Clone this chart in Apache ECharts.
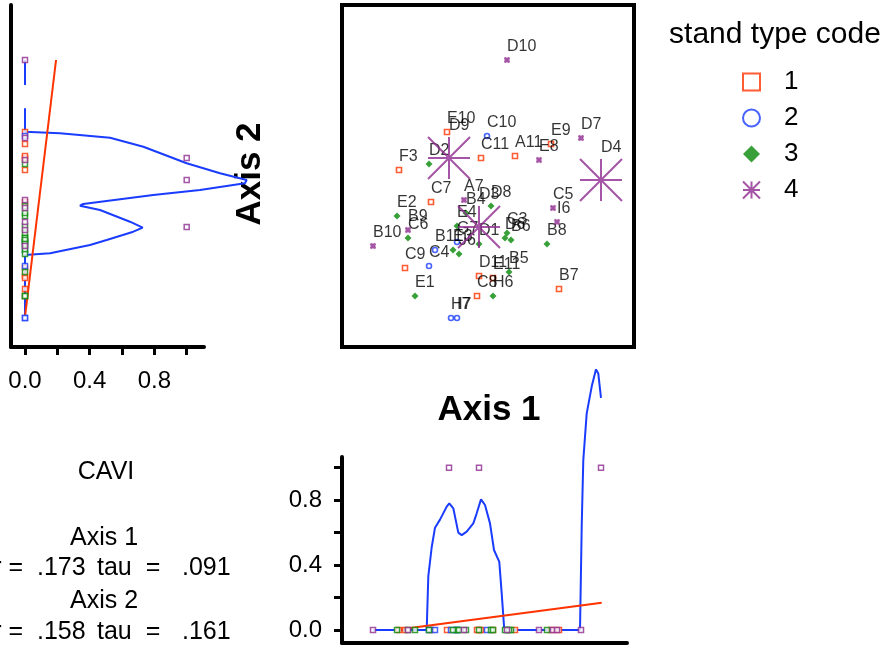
<!DOCTYPE html>
<html>
<head>
<meta charset="utf-8">
<script src="https://cdn.jsdelivr.net/npm/echarts@6/dist/echarts.min.js"></script>
<style>
  html, body { margin: 0; padding: 0; background: #fff; }
  #chart { width: 888px; height: 648px; }
</style>
</head>
<body>
<div id="chart"></div>
<script>
// plot labels, stand type and the two ordination scores
const names = ['E10','F3','C11','A11','E9','C7','C9','D11','E11','C8','B7',
  'C10','G7','B11','C4','H7','I7',
  'D2','E2','C6','E4','B4','E3','J6','D1','D8','C3','D6','B6','B8','B5','H6','E1',
  'D10','D9','E8','D7','D4','A7','B9','B10','D3','C5','I6'];
const groups = [1,1,1,1,1,1,1,1,1,1,1,
  2,2,2,2,2,2,
  3,3,3,3,3,3,3,3,3,3,3,3,3,3,3,3,
  4,4,4,4,4,4,4,4,4,4,4];
const axis1 = [105,57,139,173,209,89,63,137,151,135,217,
  145,115,93,87,109,115,
  87,55,66,115,124,111,117,137,149,165,163,169,205,167,151,73,
  165,107,197,239,259,122,66,31,137,211,215];
const axis2 = [215,177,189,191,203,145,79,71,69,51,58,
  211,105,97,81,29,29,
  183,131,109,121,134,97,93,103,141,114,109,107,103,75,51,51,
  287,189,187,209,167,147,117,101,120,139,125];
// variable plotted in the marginal panels (big stars = 1)
const caviVar = [0,0,0,0,0,0,0,0,0,0,0,
  0,0,0,0,0,0,
  0,0,0,0,0,0,0,0,0,0,0,0,0,0,0,0,
  0,1,0,0,1,0,0,0,1,0,0];

// smoothed curve, left panel (value, axis 2)
const leftCurveV = [0,0,null,0,0,0.216,0.526,0.732,1.0,1.206,1.371,1.36,1.082,0.793,0.36,0.34,0.464,0.649,0.728,0.67,0.505,0.402,0.155,0,0];
const leftCurveY = [287,262,null,238.7,215.3,213.7,209.3,200.3,183.7,173.7,167,163.7,157,152,143,141.3,137,125.3,119.3,115.3,107,102,93.7,92,29.7];
// smoothed curve, bottom panel (axis 1, value)
const botCurveX = [31.3,84.7,86.3,89.7,93,98,104.7,107.3,111.3,116.3,119.7,124.7,131.3,134.7,139,143,148,152,157.3,159.7,162.3,238,239.7,241.3,244.7,249.7,254,256.3,259];
const botCurveV = [0,0,0.33,0.51,0.63,0.68,0.76,0.78,0.75,0.60,0.585,0.606,0.657,0.719,0.805,0.77,0.657,0.493,0.42,0.226,0,0,0.636,1.047,1.335,1.5,1.606,1.58,1.43];
// straight fits
const leftFitV = [0, 0.192];
const leftFitY = [30.3, 287];
const botFitX = [53, 259.7];
const botFitV = [0, 0.168];

const tickVals = [0, 0.2, 0.4, 0.6, 0.8, 1.0];
const tickLabels = [0, 0.4, 0.8];

const colors = ['#ff3300', '#1a3cff', '#078807', '#8e2b8e'];
const FONT = 'Liberation Sans, Arial, sans-serif';
const STAR = 'path://M0 -10L0 10M-10 0L10 0M-10 -10L10 10M-10 10L10 -10';

const chart = echarts.init(document.getElementById('chart'));

function mainSeries(g) {
  const data = [];
  names.forEach((n, i) => {
    if (groups[i] === g) data.push([axis1[i], axis2[i], n, caviVar[i]]);
  });
  const s = {
    name: String(g),
    type: 'scatter',
    xAxisIndex: 0, yAxisIndex: 0,
    data: data,
    z: g === 4 ? 4 : 3,
    label: {
      show: true,
      formatter: p => p.value[2],
      position: 'top',
      align: 'left',
      distance: 2,
      fontSize: 16,
      fontFamily: FONT,
      color: '#000'
    }
  };
  if (g === 1) {
    s.symbol = 'rect'; s.symbolSize = 5;
    s.itemStyle = { color: '#fff', borderColor: colors[0], borderWidth: 1.6 };
  } else if (g === 2) {
    s.symbol = 'circle'; s.symbolSize = 5;
    s.itemStyle = { color: '#fff', borderColor: colors[1], borderWidth: 1.6 };
  } else if (g === 3) {
    s.symbol = 'diamond'; s.symbolSize = 7;
    s.itemStyle = { color: colors[2] };
  } else {
    s.symbol = STAR;
    s.symbolSize = d => d[3] ? 42 : 5;
    s.itemStyle = { color: 'rgba(0,0,0,0)', borderColor: colors[3], borderWidth: 2 };
  }
  return s;
}

const leftMarks = names.map((n, i) => ({
  value: [caviVar[i], axis2[i]],
  itemStyle: { borderColor: colors[groups[i] - 1] }
}));
const botMarks = names.map((n, i) => ({
  value: [axis1[i], caviVar[i]],
  itemStyle: { borderColor: colors[groups[i] - 1] }
}));

const pair = (a, b) => a.map((v, i) => (v === null ? '-' : [v, b[i]]));

const option = {
  animation: false,
  backgroundColor: '#fff',
  textStyle: { fontFamily: FONT },
  grid: [
    { left: 342, top: 5, width: 292, height: 342, show: true, borderColor: '#000', borderWidth: 4 },
    { left: 11, top: 5, width: 193, height: 342 },
    { left: 342, top: 457, width: 285, height: 186 },
    // same scale as the left panel, wider so the curve is not cut
    { left: 11, top: 5, width: 260, height: 342 }
  ],
  xAxis: [
    { gridIndex: 0, type: 'value', min: 0, max: 292, show: false },
    {
      gridIndex: 1, type: 'value', min: -0.0866, max: 1.107,
      splitLine: { show: false },
      axisLine: { show: true, onZero: false, lineStyle: { color: '#000', width: 4 } },
      axisTick: { show: true, customValues: tickVals, length: 8, lineStyle: { color: '#000', width: 3 } },
      axisLabel: { customValues: tickLabels, formatter: v => v.toFixed(1), fontSize: 24, color: '#000', margin: 22, fontFamily: FONT }
    },
    {
      gridIndex: 2, type: 'value', min: 0, max: 285,
      splitLine: { show: false },
      axisLine: { show: true, onZero: false, lineStyle: { color: '#000', width: 4 } },
      axisTick: { show: false }, axisLabel: { show: false }
    },
    { gridIndex: 3, type: 'value', min: -0.0866, max: -0.0866 + 260 / 161.7, show: false }
  ],
  yAxis: [
    { gridIndex: 0, type: 'value', min: 0, max: 342, show: false },
    {
      gridIndex: 1, type: 'value', min: 0, max: 342,
      splitLine: { show: false },
      axisLine: { show: true, onZero: false, lineStyle: { color: '#000', width: 4 } },
      axisTick: { show: false }, axisLabel: { show: false }
    },
    {
      gridIndex: 2, type: 'value', min: -0.08, max: 1.066,
      splitLine: { show: false },
      axisLine: { show: true, onZero: false, lineStyle: { color: '#000', width: 4 } },
      axisTick: { show: true, customValues: tickVals, length: 8, lineStyle: { color: '#000', width: 3 } },
      axisLabel: { customValues: tickLabels, formatter: v => v.toFixed(1), fontSize: 24, color: '#000', margin: 20, fontFamily: FONT }
    },
    { gridIndex: 3, type: 'value', min: 0, max: 342, show: false }
  ],
  legend: {
    orient: 'vertical',
    left: 742, top: 69, padding: 0,
    itemWidth: 17, itemHeight: 17, itemGap: 10,
    selectedMode: false,
    formatter: '{t|{name}}',
    textStyle: { rich: { t: { fontSize: 26, lineHeight: 26, padding: [0, 0, 0, 19], color: '#000', fontFamily: FONT } } },
    data: [
      { name: '1', icon: 'rect', itemStyle: { color: '#fff', borderColor: colors[0], borderWidth: 2 } },
      { name: '2', icon: 'circle', itemStyle: { color: '#fff', borderColor: colors[1], borderWidth: 2 } },
      { name: '3', icon: 'diamond', itemStyle: { color: colors[2], borderWidth: 0 } },
      { name: '4', icon: STAR, itemStyle: { color: 'rgba(0,0,0,0)', borderColor: colors[3], borderWidth: 2 } }
    ]
  },
  graphic: [
    { type: 'text', x: 775, y: 35, style: { text: 'stand type code', font: '30px ' + FONT, fill: '#000', align: 'center', verticalAlign: 'middle' } },
    { type: 'text', x: 250, y: 174, rotation: Math.PI / 2, style: { text: 'Axis 2', font: 'bold 35px ' + FONT, fill: '#000', align: 'center', verticalAlign: 'middle' } },
    { type: 'text', x: 489, y: 410, style: { text: 'Axis 1', font: 'bold 35px ' + FONT, fill: '#000', align: 'center', verticalAlign: 'middle' } },
    { type: 'text', x: 106, y: 472, style: { text: 'CAVI', font: '25px ' + FONT, fill: '#000', align: 'center', verticalAlign: 'middle' } },
    { type: 'text', x: 104, y: 538, style: { text: 'Axis 1', font: '25px ' + FONT, fill: '#000', align: 'center', verticalAlign: 'middle' } },
    { type: 'text', x: 104, y: 601, style: { text: 'Axis 2', font: '25px ' + FONT, fill: '#000', align: 'center', verticalAlign: 'middle' } },
    { type: 'text', x: 23, y: 568, style: { text: 'r =', font: '25px ' + FONT, fill: '#000', align: 'right', verticalAlign: 'middle' } },
    { type: 'text', x: 37, y: 568, style: { text: '.173', font: '25px ' + FONT, fill: '#000', align: 'left', verticalAlign: 'middle' } },
    { type: 'text', x: 97, y: 568, style: { text: 'tau  =', font: '25px ' + FONT, fill: '#000', align: 'left', verticalAlign: 'middle' } },
    { type: 'text', x: 182, y: 568, style: { text: '.091', font: '25px ' + FONT, fill: '#000', align: 'left', verticalAlign: 'middle' } },
    { type: 'text', x: 23, y: 632, style: { text: 'r =', font: '25px ' + FONT, fill: '#000', align: 'right', verticalAlign: 'middle' } },
    { type: 'text', x: 37, y: 632, style: { text: '.158', font: '25px ' + FONT, fill: '#000', align: 'left', verticalAlign: 'middle' } },
    { type: 'text', x: 97, y: 632, style: { text: 'tau  =', font: '25px ' + FONT, fill: '#000', align: 'left', verticalAlign: 'middle' } },
    { type: 'text', x: 182, y: 632, style: { text: '.161', font: '25px ' + FONT, fill: '#000', align: 'left', verticalAlign: 'middle' } }
  ],
  series: [
    mainSeries(1), mainSeries(2), mainSeries(3), mainSeries(4),
    {
      name: 'leftCurve', type: 'line', xAxisIndex: 3, yAxisIndex: 3,
      data: pair(leftCurveV, leftCurveY), showSymbol: false, z: 2,
      lineStyle: { color: colors[1], width: 2 }
    },
    {
      name: 'leftFit', type: 'line', xAxisIndex: 1, yAxisIndex: 1,
      data: pair(leftFitV, leftFitY), showSymbol: false, z: 2,
      lineStyle: { color: colors[0], width: 2 }
    },
    {
      name: 'leftMarks', type: 'scatter', xAxisIndex: 1, yAxisIndex: 1,
      data: leftMarks, symbol: 'rect', symbolSize: 5, z: 3,
      itemStyle: { color: '#fff', borderWidth: 1.5 }
    },
    {
      name: 'botCurve', type: 'line', xAxisIndex: 2, yAxisIndex: 2,
      data: pair(botCurveX, botCurveV), showSymbol: false, clip: false, z: 2,
      lineStyle: { color: colors[1], width: 2 }
    },
    {
      name: 'botFit', type: 'line', xAxisIndex: 2, yAxisIndex: 2,
      data: pair(botFitX, botFitV), showSymbol: false, z: 2,
      lineStyle: { color: colors[0], width: 2 }
    },
    {
      name: 'botMarks', type: 'scatter', xAxisIndex: 2, yAxisIndex: 2,
      data: botMarks, symbol: 'rect', symbolSize: 5, z: 3,
      itemStyle: { color: '#fff', borderWidth: 1.5 }
    }
  ]
};

chart.setOption(option);
</script>
</body>
</html>
